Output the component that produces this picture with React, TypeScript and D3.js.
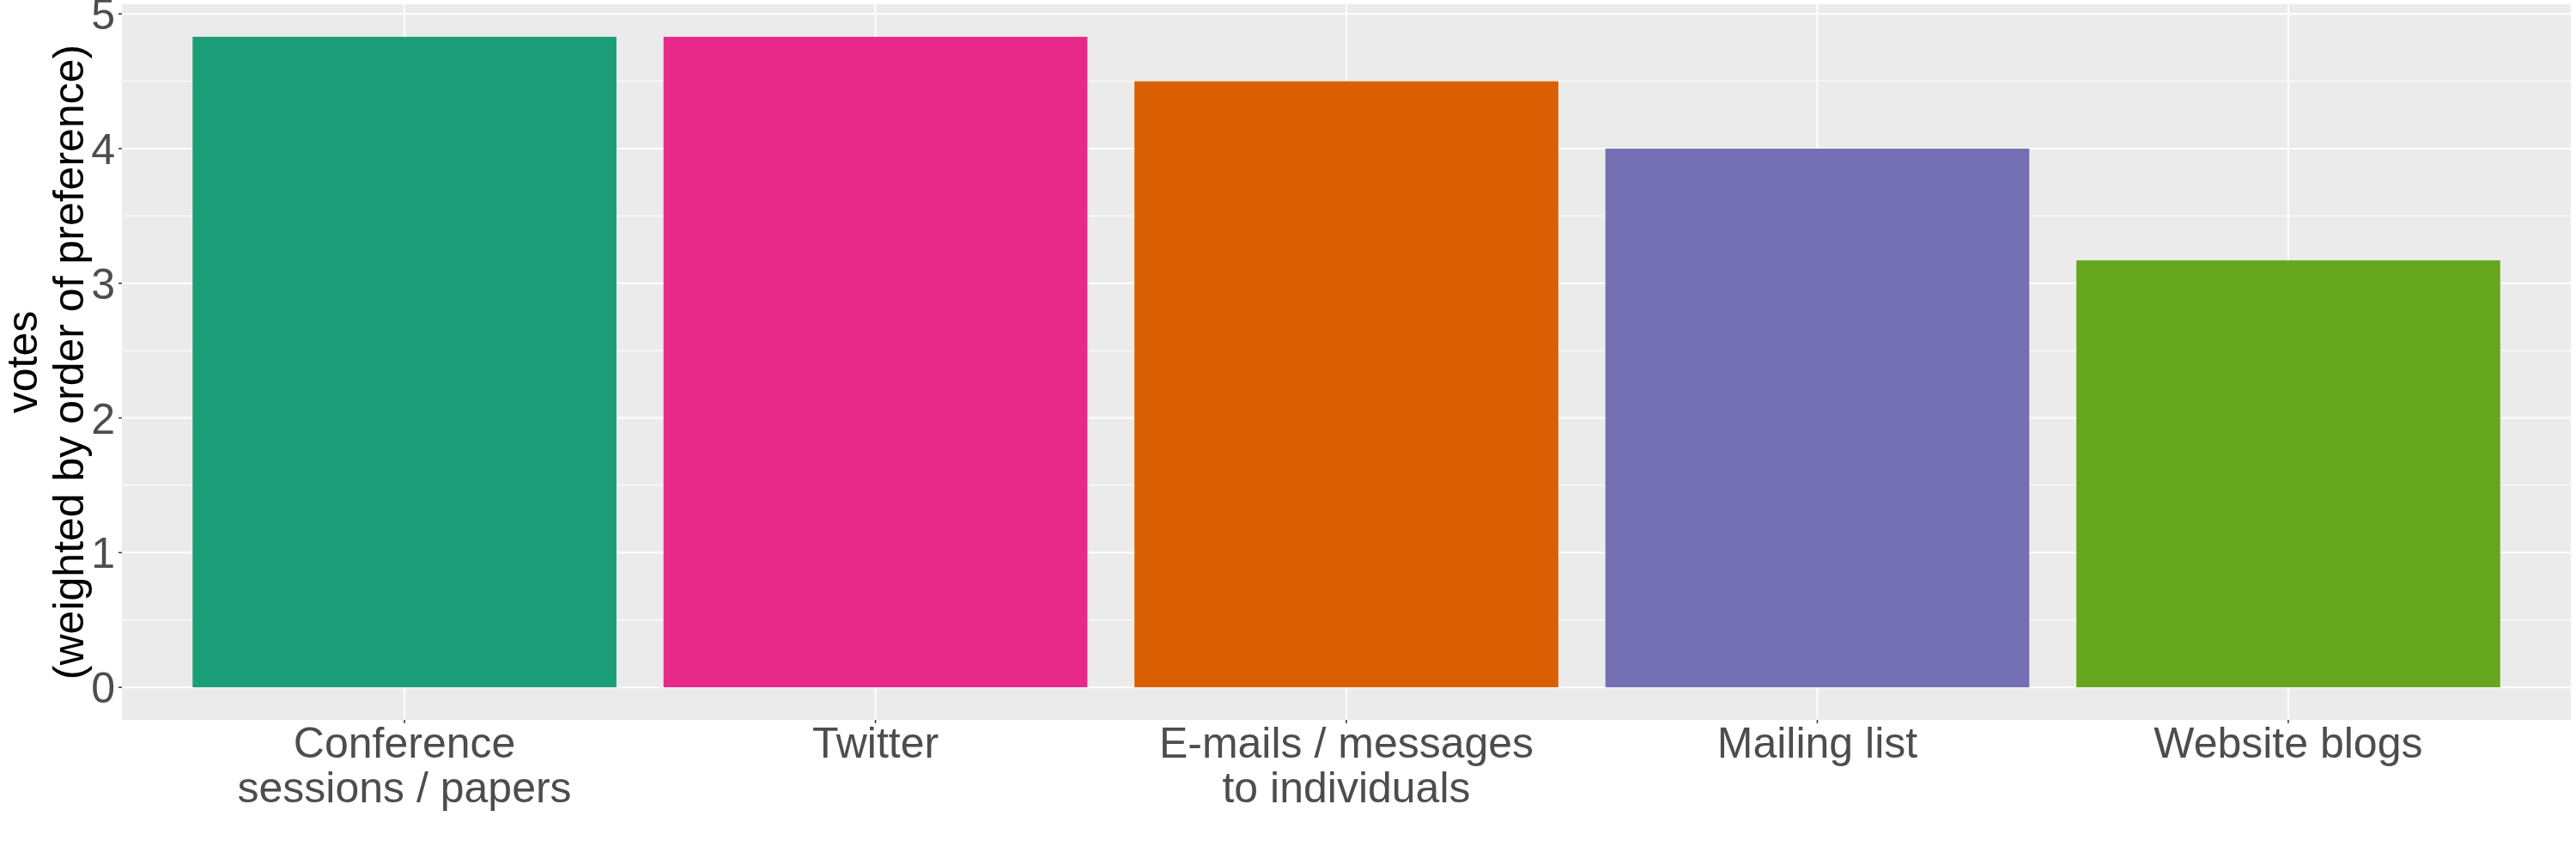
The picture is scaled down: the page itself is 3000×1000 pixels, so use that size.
import * as d3 from 'd3';

const categories = [
  'Conference\nsessions / papers',
  'Twitter',
  'E-mails / messages\nto individuals',
  'Mailing list',
  'Website blogs',
];
const votes = [4.83, 4.83, 4.5, 4.0, 3.17];
const barColors = ['#1B9E77', '#E7298A', '#D95F02', '#7570B3', '#66A61E'];
const yTicks = [0, 1, 2, 3, 4, 5];
const yMinor = [0.5, 1.5, 2.5, 3.5, 4.5];
const yTitle = ['votes', '(weighted by order of preference)'];

export default function App() {
  const width = 3000, height = 1000;
  const panel = { left: 142, right: 2994, top: 5, bottom: 838 };
  const font = 'Liberation Sans, Arial, sans-serif';

  const maxV = d3.max(votes) as number;
  const pad = maxV * 0.05;
  const y = d3.scaleLinear().domain([-pad, maxV + pad]).range([panel.bottom, panel.top]);
  const x = d3.scaleBand<string>().domain(categories).range([panel.left, panel.right])
    .paddingInner(0.1).paddingOuter(0.15);
  const center = (c: string) => (x(c) as number) + x.bandwidth() / 2;
  const midY = (panel.top + panel.bottom) / 2;

  return (
    <svg width={width} height={height} style={{ position: 'absolute', left: 0, top: 0 }} fontFamily={font}>
      <rect x={0} y={0} width={width} height={height} fill="#fff" />
      <rect x={panel.left} y={panel.top} width={panel.right - panel.left} height={panel.bottom - panel.top} fill="#EBEBEB" />

      {yMinor.map(t => (
        <line key={'mn' + t} x1={panel.left} x2={panel.right} y1={y(t)} y2={y(t)} stroke="#fff" strokeWidth={1} />
      ))}
      {yTicks.map(t => (
        <line key={'mj' + t} x1={panel.left} x2={panel.right} y1={y(t)} y2={y(t)} stroke="#fff" strokeWidth={2} />
      ))}
      {categories.map(c => (
        <line key={'vx' + c} x1={center(c)} x2={center(c)} y1={panel.top} y2={panel.bottom} stroke="#fff" strokeWidth={2} />
      ))}

      {categories.map((c, i) => (
        <rect key={'bar' + c} x={x(c)} y={y(votes[i])} width={x.bandwidth()} height={y(0) - y(votes[i])} fill={barColors[i]} />
      ))}

      {yTicks.map(t => (
        <g key={'yt' + t}>
          <line x1={panel.left - 4} x2={panel.left} y1={y(t)} y2={y(t)} stroke="#333" strokeWidth={1.5} />
          <text x={panel.left - 8} y={y(t)} dy="0.36em" textAnchor="end" fontSize={50} fill="#4D4D4D">{t}</text>
        </g>
      ))}

      {categories.map(c => (
        <g key={'xt' + c}>
          <line x1={center(c)} x2={center(c)} y1={panel.bottom} y2={panel.bottom + 4} stroke="#333" strokeWidth={1.5} />
          <text x={center(c)} y={panel.bottom + 44} textAnchor="middle" fontSize={50} fill="#4D4D4D">
            {c.split('\n').map((ln, j) => (
              <tspan key={j} x={center(c)} dy={j === 0 ? 0 : 52}>{ln}</tspan>
            ))}
          </text>
        </g>
      ))}

      <text transform={`translate(43,${midY}) rotate(-90)`} textAnchor="middle" fontSize={50} fill="#000">
        {yTitle.map((ln, j) => (
          <tspan key={j} x={0} dy={j === 0 ? 0 : 54}>{ln}</tspan>
        ))}
      </text>
    </svg>
  );
}
